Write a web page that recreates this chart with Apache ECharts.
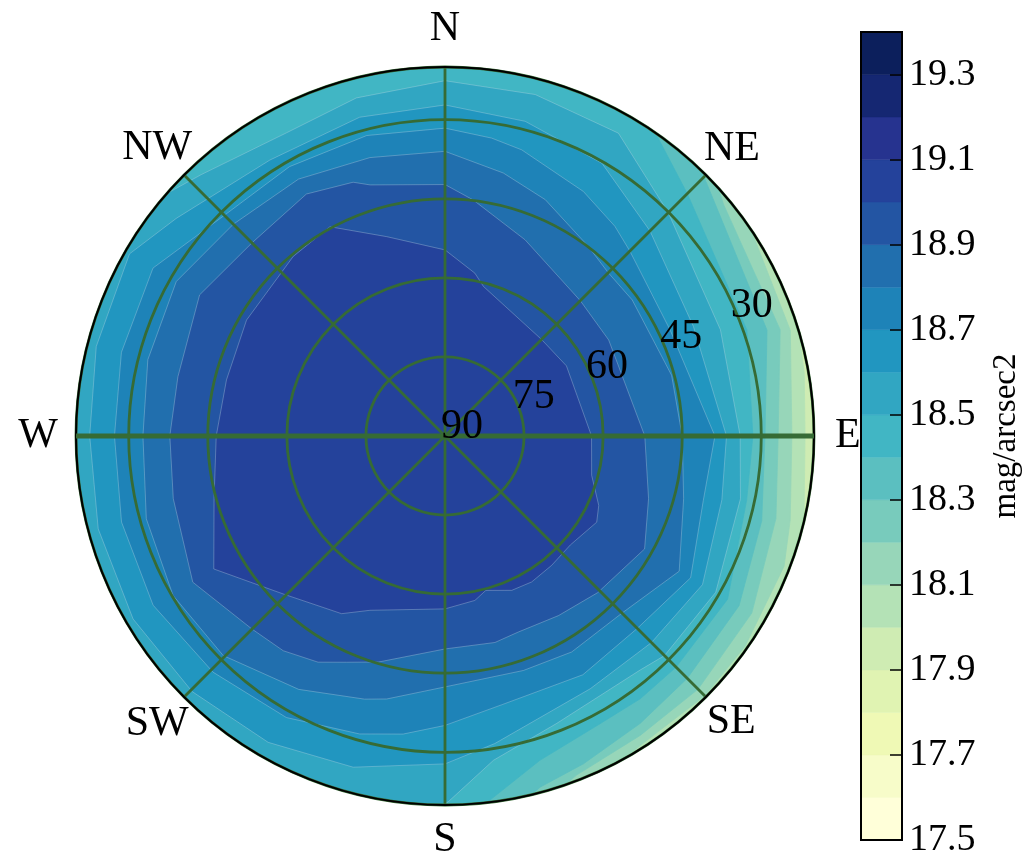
<!DOCTYPE html>
<html>
<head>
<meta charset="utf-8">
<style>html,body{margin:0;padding:0;background:#fff}#c{width:1034px;height:854px;filter:blur(0.5px)}</style>
<script src="https://cdn.jsdelivr.net/npm/echarts@6/dist/echarts.min.js"></script>
</head>
<body>
<div id="c"></div>
<script>
// Colour of each band, from the band starting at 17.5 to the one starting at 19.3
var bandStart = [17.5,17.6,17.7,17.8,17.9,18.0,18.1,18.2,18.3,18.4,18.5,18.6,18.7,18.8,18.9,19.0,19.1,19.2,19.3];
var bandColor = ['#ffffd9','#f7fcc9','#eff9b5','#e0f3b2','#cfecb3','#b4e2b6','#97d6b9','#78cbbc','#5bbfc0','#41b6c4','#31a6c2','#2196c0','#1e83b8','#216fae','#2355a3','#24429b','#26338f','#152772','#0c1f5c'];
var colorbarTicks = {min:17.5, max:19.4, step:0.2};

// Contours: [azimuth (deg, N=0, E=90), zenith distance (deg)], 80 = beyond the horizon edge
var c179 = [[0,80],[30,80],[60,80],[90,80],[120,80],[150,80],[180,80],[210,80],[240,80],[270,80],[300,80],[330,80]];
var c180 = [[0,80],[30,80],[60,80],[71,70.5],[80,69.2],[90,68.3],[103,69.9],[106,71],[130,80],[160,80],[190,80],[220,80],[250,80],[280,80],[310,80],[340,80]];
var c181 = [[0,80],[30,80],[52,71],[58,69.5],[73,68.5],[90,65.8],[103.7,67.4],[111,68.9],[125,69.5],[135,69.7],[147.7,69.4],[153,70.5],[165,77],[190,80],[220,80],[250,80],[280,80],[310,80],[340,80]];
var c182 = [[0,80],[25,80],[46,71],[50.3,68.7],[72.4,66.7],[90,63.2],[104,64.7],[120,67.2],[135,67.9],[146.9,67.8],[158.8,69],[163,71],[180,80],[210,80],[240,80],[270,80],[300,80],[330,80]];
var c183 = [[0,80],[25,80],[42,71],[46,69],[71.8,64.3],[90,60.7],[105,62.2],[120,64.4],[135,65],[145.8,65.9],[157.1,67.5],[164.8,69],[168,71],[190,80],[220,80],[250,80],[280,80],[310,80],[340,80]];
var c184 = [[0,80],[20,80],[34,70.5],[45,65],[70.6,60.7],[90,58.4],[102,58.5],[120,61.9],[135,62],[143.4,62.1],[151.7,62],[163.7,64.1],[172.7,69.4],[176,72],[200,80],[230,80],[260,80],[290,80],[320,80],[350,80]];
var c185 = [[0,67.4],[14.8,67],[29.8,66.2],[45,59.9],[68.9,56],[90,56],[102,57.3],[120,59.3],[135,58.9],[140.2,57.8],[158.8,58.5],[171.5,62.2],[179.5,69.4],[183,72],[210,80],[240,80],[270,80],[300,80],[309,71],[317,67.8],[332.4,64.9],[345.3,66.3]];
var c186 = [[0,62.8],[14.3,61.6],[29.9,59.7],[45,55],[66.2,51.5],[90,53.4],[103,53.9],[120,56.4],[135,55.4],[150.1,55.3],[170.8,59.1],[180,62.2],[195.5,65.2],[210,67.1],[224.7,68.2],[239.6,68.6],[255,68.1],[270,67.4],[284.4,68.3],[300,69.1],[309,65.6],[327.6,62],[345,62.6]];
var c187 = [[0,58.4],[8.9,57.2],[15,56.2],[29.5,53.3],[39,51.2],[45,49.6],[64.8,47.2],[90,51.2],[104,50.5],[120,53.8],[135,51.6],[150,52.3],[168,52.1],[180,54.9],[188,57.1],[196,58.8],[209.4,61.3],[224.5,62.8],[239.9,64],[255.1,63.5],[270,62.7],[284.5,63.4],[299.9,63.9],[315,59.2],[330,59],[345.4,58.9]];
var c188 = [[0,54],[12.5,51.1],[23,48.7],[37,45.1],[45,43.8],[54,43.9],[75,44.5],[90,45],[104.7,46.8],[120,51.3],[135,47.5],[149.6,47.5],[161.5,46.9],[180,47.6],[192.5,51.1],[197,52.2],[210,55.5],[225.3,59.2],[239.6,59.8],[254.5,58.8],[270,57.3],[284.4,58.2],[299.9,58.8],[315,56.8],[330.3,56.1],[344.9,54.7]];
var c189 = [[0,47.7],[6.8,45.1],[22.2,40.2],[45,36.3],[59.6,36],[90,37.9],[107.1,40.4],[119.5,43.5],[135.7,41.5],[147.7,40.3],[159.5,39.7],[166.4,40.3],[180,40.4],[196.4,44.7],[203.5,46.8],[209.3,49.2],[217,51],[225.1,51.8],[239.9,55.3],[257,52.9],[270,52.2],[282.5,51.9],[299.9,53.7],[315,51.8],[330.2,52.9],[340.1,51.2],[343.4,49.7]];
var c190 = [[0,35.3],[10.4,31.4],[14.4,29.3],[45,25.9],[60,26.6],[90,27.8],[105,28.8],[114.3,32],[119.6,33.1],[131,31.5],[140.5,31.8],[149.3,32.2],[156.6,31.9],[165.2,30.3],[169.7,31.7],[180,32.8],[203.3,36],[210.2,39],[225.7,42.9],[240.1,50.6],[254.8,45.4],[270,43.4],[284.4,42.8],[300.3,43.6],[319.8,44.6],[331.2,45.3],[343.7,39.4]];
var contours = [c179,c180,c181,c182,c183,c184,c185,c186,c187,c188,c189,c190];
var contourBand = [17.9,18.0,18.1,18.2,18.3,18.4,18.5,18.6,18.7,18.8,18.9,19.0];

// Labels
var compassNames = ['N','NE','E','SE','S','SW','W','NW'];
var compassAz = [0,45,90,135,180,225,270,315];
var compassPos = [77.3,77,76.4,76.8,76.6,77.2,77.2,77.2];
var zenithText = ['90','75','60','45','30'];
var zenithTextAz = [62,66.3,66.9,67.2,67];
var zenithTextPos = [3.65,18.4,33.4,48.6,63.2];
var eastWest = [[70,270],[70,90]];
var zenithMax = 70;
var SERIF = '"Liberation Serif","DejaVu Serif",serif';
var GREEN = '#366b35';

var series = [];
series.push({
  type:'custom', coordinateSystem:'polar', polarIndex:0, clip:true, silent:true, animation:false, z:2,
  encode:{radius:0, angle:1},
  data: contours.map(function(_,i){return [i,i];}),
  renderItem:function(params,api){
    var i = params.dataIndex;
    var pts = contours[i].map(function(p){return api.coord([p[1],p[0]]);});
    var col = bandColor[bandStart.indexOf(contourBand[i])];
    return {type:'polygon', shape:{points:pts}, style:{fill:col, stroke:i>5?'rgba(205,222,232,0.4)':col, lineWidth:0.8}};
  }
});
series.push({
  type:'line', coordinateSystem:'polar', polarIndex:0, data:eastWest, symbol:'none', silent:true, animation:false, z:7, clip:false,
  lineStyle:{color:GREEN, width:5}
});
series.push({
  type:'custom', coordinateSystem:'polar', polarIndex:0, silent:true, animation:false, z:9,
  encode:{radius:0, angle:1},
  data: compassNames.map(function(n,i){return [compassPos[i],compassAz[i],n];}),
  renderItem:function(params,api){
    var c = api.coord([api.value(0),api.value(1)]);
    return {type:'text', style:{text:compassNames[params.dataIndex], x:c[0], y:c[1], align:'center', verticalAlign:'middle', fill:'#000', font:'42px '+SERIF}};
  }
});
series.push({
  type:'custom', coordinateSystem:'polar', polarIndex:0, silent:true, animation:false, z:9,
  encode:{radius:0, angle:1},
  data: zenithText.map(function(n,i){return [zenithTextPos[i],zenithTextAz[i],n];}),
  renderItem:function(params,api){
    var c = api.coord([api.value(0),api.value(1)]);
    return {type:'text', style:{text:zenithText[params.dataIndex], x:c[0], y:c[1], align:'center', verticalAlign:'middle', fill:'#000', font:'42px '+SERIF}};
  }
});
// Colour bar
series.push({
  type:'custom', coordinateSystem:'cartesian2d', xAxisIndex:0, yAxisIndex:0, silent:true, animation:false, z:10,
  encode:{x:0, y:1},
  data: bandStart.map(function(b,i){return [0,b];}),
  renderItem:function(params,api){
    var i = params.dataIndex;
    var lo = api.coord([0,bandStart[i]]);
    var hi = api.coord([1,+(bandStart[i]+0.1).toFixed(1)]);
    return {type:'rect', shape:{x:lo[0], y:hi[1], width:hi[0]-lo[0], height:lo[1]-hi[1]}, style:{fill:bandColor[i], stroke:bandColor[i], lineWidth:0.5}};
  }
});
series.push({
  type:'custom', coordinateSystem:'cartesian2d', xAxisIndex:0, yAxisIndex:0, silent:true, animation:false, z:11,
  encode:{x:0, y:1},
  data: [[0,colorbarTicks.min]],
  renderItem:function(params,api){
    var lo = api.coord([0,colorbarTicks.min]);
    var hi = api.coord([1,colorbarTicks.max]);
    return {type:'rect', shape:{x:lo[0], y:hi[1], width:hi[0]-lo[0], height:lo[1]-hi[1]}, style:{fill:'none', stroke:'#000', lineWidth:2}};
  }
});

var chart = echarts.init(document.getElementById('c'), null, {renderer:'canvas', width:1034, height:854});
chart.setOption({
  animation:false,
  backgroundColor:'#fff',
  polar:{center:[445,436], radius:369},
  angleAxis:{
    type:'value', min:0, max:360, interval:45, startAngle:90, clockwise:true, z:6,
    axisLine:{show:true, lineStyle:{color:'#000', width:2}},
    axisTick:{show:false}, axisLabel:{show:false},
    splitLine:{show:true, lineStyle:{color:GREEN, width:2.8}}
  },
  radiusAxis:{
    type:'value', min:0, max:zenithMax, interval:15, z:5,
    axisLine:{show:false}, axisTick:{show:false}, axisLabel:{show:false},
    splitLine:{show:true, lineStyle:{color:GREEN, width:2.8}}
  },
  grid:{left:861, top:32, width:41, height:808, containLabel:false, outerBoundsMode:'none'},
  xAxis:{type:'value', min:0, max:1, show:false},
  yAxis:{
    type:'value', position:'right', min:colorbarTicks.min, max:colorbarTicks.max, interval:colorbarTicks.step, z:12,
    splitLine:{show:false},
    axisLine:{show:false, onZero:false},
    axisTick:{show:true, inside:true, length:12, lineStyle:{color:'#000', width:1.5}},
    axisLabel:{show:true, showMaxLabel:false, margin:7, color:'#000', fontFamily:SERIF, fontSize:38,
      formatter:function(v){return v.toFixed(1);}},
    name:'mag/arcsec2', nameLocation:'middle', nameGap:88, nameRotate:90,
    nameTextStyle:{color:'#000', fontFamily:SERIF, fontSize:33}
  },
  series:series
});
</script>
</body>
</html>
